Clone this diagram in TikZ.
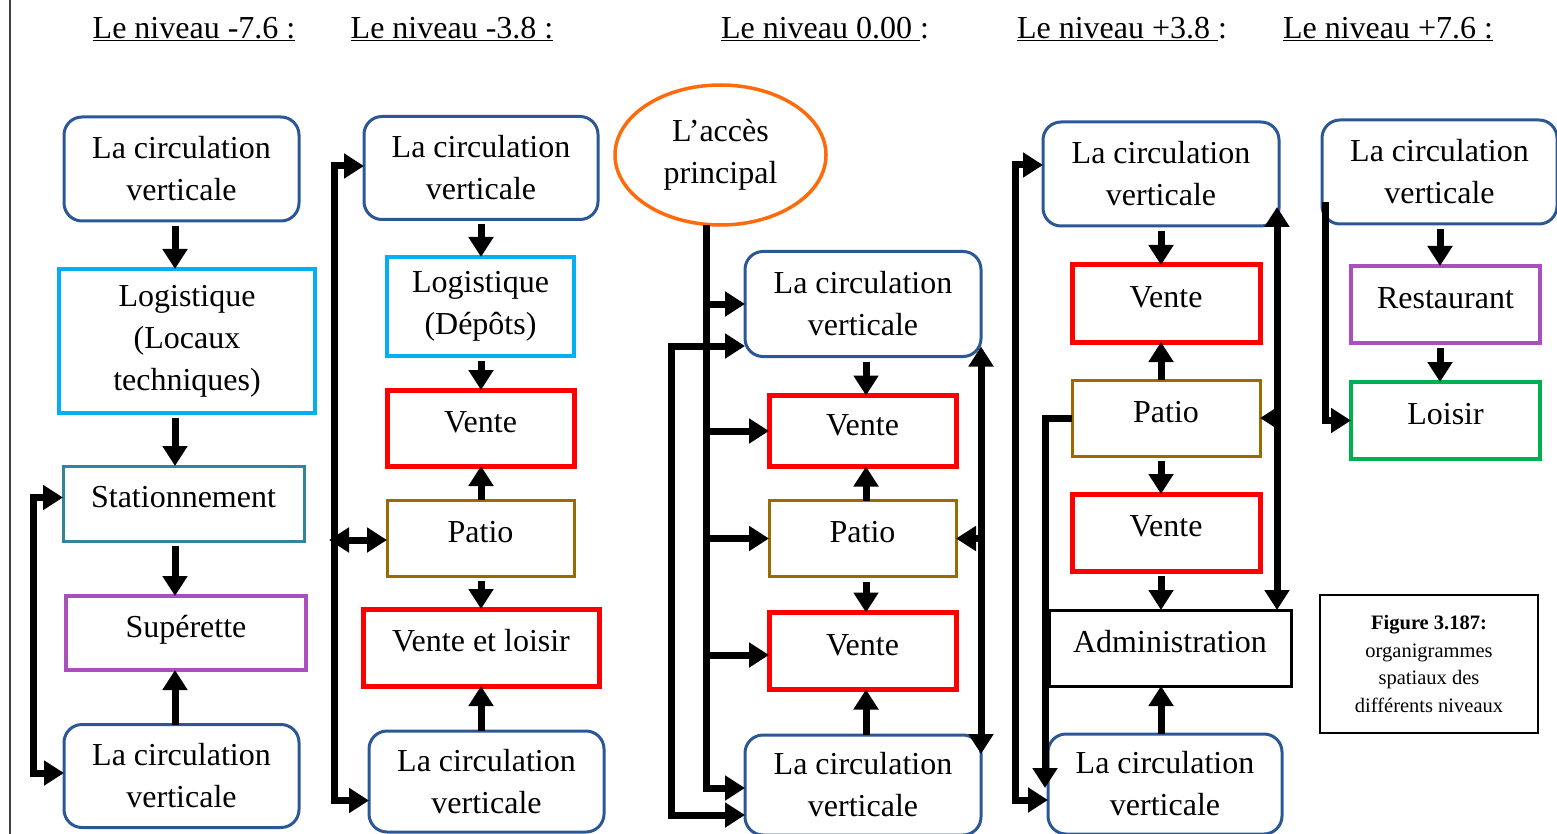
\documentclass[tikz,border=0pt]{standalone}
\usepackage{fontspec}
\setmainfont{Liberation Serif}
\usetikzlibrary{arrows.meta,shapes.geometric}
\definecolor{nivBlue}{HTML}{2B5797}
\definecolor{nivCyan}{HTML}{00B0F0}
\definecolor{nivTeal}{HTML}{31849B}
\definecolor{nivPurple}{HTML}{AB4FBF}
\definecolor{nivRed}{HTML}{FF0000}
\definecolor{nivBrown}{HTML}{9C6A00}
\definecolor{nivOrange}{HTML}{FF6A0A}
\definecolor{nivGreen}{HTML}{00B050}
\tikzset{
  niv diagram/.style={
    x=1pt, y=-1pt,
    every node/.style={font=\fontsize{32}{42}\selectfont,
      text=black, inner sep=0pt, outer sep=0pt, align=center}
  },
  niv size/.style 2 args={minimum width=#1pt, minimum height=#2pt},
  niv circ/.style={draw=nivBlue, line width=3pt, rounded corners=18pt},
  niv one/.style={text height=22pt, text depth=14pt},
  niv arrow/.style={line width=7pt, -{Triangle[length=20pt,width=24pt]}},
  niv both/.style={line width=7pt,
    {Triangle[length=20pt,width=24pt]}-{Triangle[length=20pt,width=24pt]}},
  niv step/.style={niv arrow, shorten <=5pt}
}

\begin{document}
\begin{tikzpicture}[niv diagram]
  \useasboundingbox (0,0) rectangle (1557,834);
  \draw[line width=1.5pt, black!75] (10,0) -- (10,834);

  % titres
  \node (tA) at (194,29) {\underline{Le niveau -7.6 :}};
  \node (tB) at (452,29) {\underline{Le niveau -3.8 :}};
  \node (tC) at (825,29) {\underline{Le niveau 0.00 }:};
  \node (tD) at (1122,29) {\underline{Le niveau +3.8 }:};
  \node (tE) at (1388,29) {\underline{Le niveau +7.6 :}};

  % niveau -7.6
  \coordinate (colA) at (175,0);
  \node[niv circ, niv size={235}{104}] (cvA) at (181.5,169) {La circulation\\verticale};
  \node[draw=nivCyan, line width=3.5pt, niv size={256}{144}] (logA) at (187,341) {Logistique\\(Locaux\\techniques)};
  \node[draw=nivTeal, line width=3pt, niv one, niv size={241}{75}] (stA) at (183.5,503.5) {Stationnement};
  \node[draw=nivPurple, line width=3.5pt, niv one, niv size={240}{74}] (supA) at (186,633) {Supérette};
  \node[niv circ, niv size={235}{103}] (cvAb) at (181.5,776) {La circulation\\verticale};
  \draw[niv step] (cvA.south -| colA) -- (logA.north -| colA);
  \draw[niv step] (logA.south -| colA) -- (stA.north -| colA);
  \draw[niv step] (stA.south -| colA) -- (supA.north -| colA);
  \draw[niv arrow] (cvAb.north -| colA) -- (supA.south -| colA);
  \draw[niv both] ([yshift=6pt]stA.west) -- ++(-30,0) |- ([yshift=3pt]cvAb.west);

  % niveau -3.8
  \coordinate (colB) at (481,0);
  \node[niv circ, niv size={234}{103}] (cvB) at (481,168) {La circulation\\verticale};
  \node[draw=nivCyan, line width=3.5pt, niv size={187}{99}] (logB) at (480.5,306.5) {Logistique\\(Dépôts)};
  \node[draw=nivRed, line width=5pt, niv one, niv size={187}{76}] (venB) at (480.5,428) {Vente};
  \node[draw=nivBrown, line width=3pt, niv one, niv size={187}{76}] (patB) at (480.5,538) {Patio};
  \node[draw=nivRed, line width=5pt, niv one, niv size={236}{77}] (velB) at (481,647.5) {Vente et loisir};
  \node[niv circ, niv size={235}{101}] (cvBb) at (486.5,781.5) {La circulation\\verticale};
  \draw[niv step] (cvB.south -| colB) -- (logB.north -| colB);
  \draw[niv step] (logB.south -| colB) -- (venB.north -| colB);
  \draw[niv arrow] (patB.north -| colB) -- (venB.south -| colB);
  \draw[niv step] (patB.south -| colB) -- (velB.north -| colB);
  \draw[niv arrow] (cvBb.north -| colB) -- (velB.south -| colB);
  \draw[niv both] ([yshift=2pt]cvB.west) -- ++(-30,0) |- ([yshift=-19pt]cvBb.west);
  \draw[niv both] ([xshift=-58pt,yshift=-2pt]patB.west) -- ([yshift=-2pt]patB.west);

  % niveau 0.00
  \coordinate (colC) at (866,0);
  \node[ellipse, draw=nivOrange, line width=3.5pt, niv size={211}{140}] (acc) at (720.5,155) {L’accès\\principal};
  \node[niv circ, niv size={236}{105}] (cvC) at (863,304) {La circulation\\verticale};
  \node[draw=nivRed, line width=5pt, niv one, niv size={187}{71}] (venC) at (862.5,431) {Vente};
  \node[draw=nivBrown, line width=3pt, niv one, niv size={187}{76}] (patC) at (862.5,538.5) {Patio};
  \node[draw=nivRed, line width=5pt, niv one, niv size={187}{77}] (venCb) at (862.5,651) {Vente};
  \node[niv circ, niv size={236}{100}] (cvCb) at (863,785) {La circulation\\verticale};
  \draw[niv step] (cvC.south -| colC) -- (venC.north -| colC);
  \draw[niv arrow] (patC.north -| colC) -- (venC.south -| colC);
  \draw[niv step] (patC.south -| colC) -- (venCb.north -| colC);
  \draw[niv arrow] (cvCb.north -| colC) -- (venCb.south -| colC);
  \coordinate (trunk) at ([xshift=-14pt]acc.south);
  \draw[niv arrow] (trunk) |- ([yshift=-3pt]cvCb.west);
  \draw[niv arrow] (trunk |- cvC.west) -- (cvC.west);
  \draw[niv arrow] (trunk |- venC.west) -- (venC.west);
  \draw[niv arrow] (trunk |- patC.west) -- (patC.west);
  \draw[niv arrow] ([yshift=-4pt]trunk |- venCb.west) -- ([yshift=-4pt]venCb.west);
  \draw[niv both] ([yshift=-42pt]cvC.west) -- ++(-74,0) |- ([yshift=-30pt]cvCb.west);
  \coordinate (rC) at ([yshift=10pt]cvC.south east);
  \draw[niv both] (rC) -- ([yshift=-19pt]rC |- cvCb.north);
  \draw[niv arrow] (rC |- patC.east) -- (patC.east);

  % niveau +3.8
  \coordinate (colD) at (1161,0);
  \node[niv circ, niv size={236}{104}] (cvD) at (1161,174) {La circulation\\verticale};
  \node[draw=nivRed, line width=5pt, niv one, niv size={188}{77}] (venD) at (1166,303.5) {Vente};
  \node[draw=nivBrown, line width=3pt, niv one, niv size={188}{76}] (patD) at (1166,418) {Patio};
  \node[draw=nivRed, line width=5pt, niv one, niv size={188}{77}] (venDb) at (1166,532.5) {Vente};
  \node[draw=black, line width=3pt, niv one, niv size={242}{76}] (admD) at (1170,648) {Administration};
  \node[niv circ, niv size={234}{100}] (cvDb) at (1165,784) {La circulation\\verticale};
  \draw[niv step] (cvD.south -| colD) -- (venD.north -| colD);
  \draw[niv arrow] (patD.north -| colD) -- (venD.south -| colD);
  \draw[niv step] (patD.south -| colD) -- (venDb.north -| colD);
  \draw[niv step] (venDb.south -| colD) -- (admD.north -| colD);
  \draw[niv arrow] (cvDb.north -| colD) -- (admD.south -| colD);
  \draw[niv both] ([yshift=9pt]cvD.west) -- ++(-28,0) |- ([yshift=-16pt]cvDb.west);
  \draw[niv arrow] (patD.west) -| ([xshift=-3pt,yshift=-4pt]cvDb.west);
  \coordinate (rD) at ([xshift=-2pt,yshift=19pt]cvD.south east);
  \draw[niv both] (rD) -- (rD |- admD.north);
  \draw[niv arrow] (rD |- patD.east) -- (patD.east);

  % niveau +7.6
  \coordinate (colE) at (1440,0);
  \node[niv circ, niv size={235}{104}] (cvE) at (1439.5,172) {La circulation\\verticale};
  \node[draw=nivPurple, line width=3.5pt, niv one, niv size={189}{77}] (resE) at (1445.5,304.5) {Restaurant};
  \node[draw=nivGreen, line width=4.5pt, niv one, niv size={189}{77}] (loiE) at (1445.5,420.5) {Loisir};
  \draw[niv step] (cvE.south -| colE) -- (resE.north -| colE);
  \draw[niv step] (resE.south -| colE) -- (loiE.north -| colE);
  \draw[niv arrow] ([xshift=3pt,yshift=-30pt]cvE.west) |- (loiE.west);

  % legende
  \node[draw, line width=1.5pt, niv size={218}{138},
    font=\fontsize{20.5}{27.5}\selectfont] (cap) at (1429,664)
    {\textbf{Figure 3.187:}\\organigrammes\\spatiaux des\\différents niveaux};
\end{tikzpicture}
\end{document}
